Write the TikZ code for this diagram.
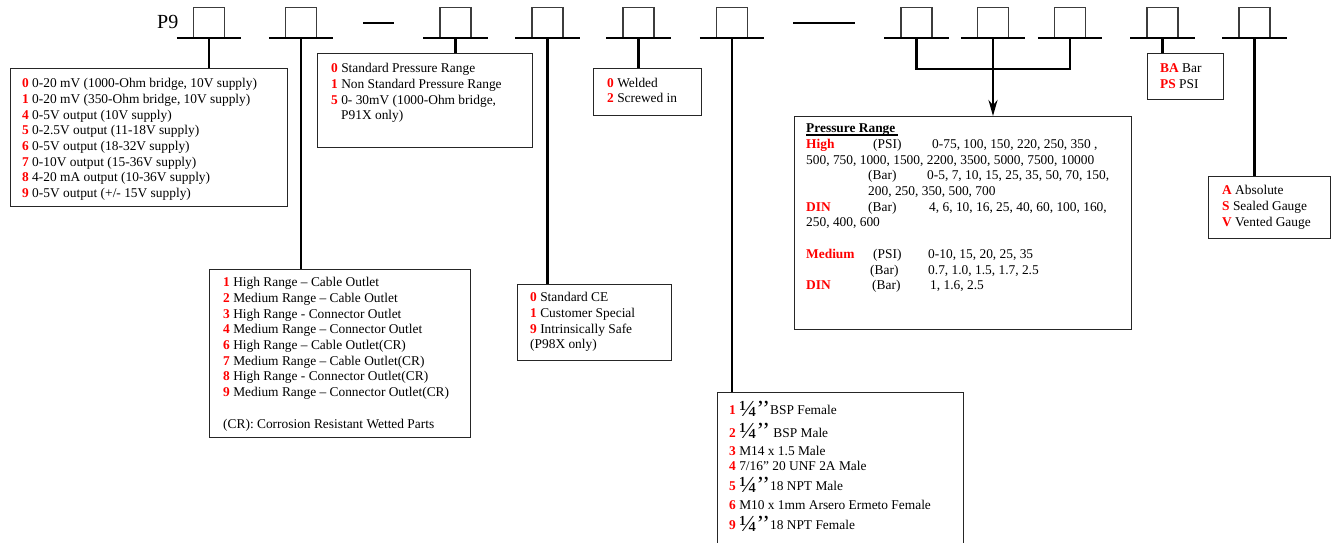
\documentclass[tikz,border=0pt]{standalone}
\usepackage{fontspec}
\setmainfont{Liberation Serif}
\usepackage{xcolor}
\usetikzlibrary{arrows.meta, positioning}
\definecolor{codered}{RGB}{255, 0, 0}
\definecolor{slotgray}{RGB}{60, 60, 60}
\newcommand{\cd}[1]{\textcolor{codered}{\textbf{#1}}}
\newcommand{\qtr}{\raisebox{-1.5pt}[9pt][0pt]{\fontsize{23}{23}\selectfont ¼’’}}

\begin{document}
\begin{tikzpicture}[
  x=1pt, y=-1pt,
  >=Stealth,
  slot/.style={
    rectangle, draw=slotgray, line width=1.1pt, inner sep=0pt,
    minimum width=31pt, minimum height=30pt, anchor=south
  },
  bar/.style={line width=2.6pt},
  wire/.style={line width=2.4pt},
  box/.style={rectangle, draw=black!85, line width=1.1pt, inner sep=0pt, anchor=north west},
  list/.style={anchor=north west, inner sep=0pt, align=left, font=\fontsize{13.4}{15.7}\selectfont},
  dashline/.style={line width=1.2pt},
]

\useasboundingbox (0,0) rectangle (1331,542);

% Code slots
\node[anchor=base west, inner sep=0pt, font=\fontsize{20}{20}\selectfont] (pnine) at (157,28) {P9};
\foreach \n/\x in {1/209, 2/301, 3/455.5, 4/547.5, 5/638.5, 6/732, 7/916.5, 8/993, 9/1070, 10/1162.5, 11/1254.5} {
  \node[slot] (s\n) at (\x,38) {};
  \draw[bar] ([xshift=-16pt]s\n.south west) -- ([xshift=16pt]s\n.south east);
}
\draw[dashline] (363,23) -- (394,23);
\draw[dashline] (793,23) -- (855,23);

% Option boxes
\node[box, minimum width=277pt, minimum height=138pt] (out)   at (10,68)    {};
\node[box, minimum width=261pt, minimum height=168pt] (cr)    at (209,269)  {};
\node[box, minimum width=215pt, minimum height=94pt]  (std)   at (317,53)   {};
\node[box, minimum width=154pt, minimum height=76pt]  (ce)    at (517,284)  {};
\node[box, minimum width=108pt, minimum height=47pt]  (weld)  at (593,68)   {};
\node[box, minimum width=246pt, minimum height=160pt] (fit)   at (717,392)  {};
\node[box, minimum width=337pt, minimum height=213pt] (prs)   at (794,116)  {};
\node[box, minimum width=76pt,  minimum height=46pt]  (unit)  at (1147,53)  {};
\node[box, minimum width=122pt, minimum height=62pt]  (gauge) at (1208,176) {};

% Stems
\draw[wire] (s1.south)  -- (s1.south  |- out.north);
\draw[wire] (s2.south)  -- (s2.south  |- cr.north);
\draw[wire] (s3.south)  -- (s3.south  |- std.north);
\draw[wire] (s4.south)  -- (s4.south  |- ce.north);
\draw[wire] (s5.south)  -- (s5.south  |- weld.north);
\draw[wire] (s6.south)  -- (s6.south  |- fit.north);
\draw[wire] (s10.south) -- (s10.south |- unit.north);
\draw[wire] (s11.south) -- (s11.south |- gauge.north);

% Pressure range bracket
\coordinate (join) at (993,69);
\draw[wire] (s7.south) |- (join) -| (s9.south);
\draw[wire] (s8.south) -- (join);
\draw[wire, -{Stealth[length=16pt, width=9pt]}] (join) -- (join |- prs.north);

% Texts
\node[list] (outtxt) at (22,76.5) {\rule{0pt}{11pt}\cd{0} 0-20 mV (1000-Ohm bridge, 10V supply)\\
  \cd{1} 0-20 mV (350-Ohm bridge, 10V supply)\\
  \cd{4} 0-5V output (10V supply)\\
  \cd{5} 0-2.5V output (11-18V supply)\\
  \cd{6} 0-5V output (18-32V supply)\\
  \cd{7} 0-10V output (15-36V supply)\\
  \cd{8} 4-20 mA output (10-36V supply)\\
  \cd{9} 0-5V output (+/- 15V supply)};

\node[list] (stdtxt) at (331,61.5) {\rule{0pt}{11pt}\cd{0} Standard Pressure Range\\
  \cd{1} Non Standard Pressure Range\\
  \cd{5} 0- 30mV (1000-Ohm bridge,\\
  \hspace*{10pt}P91X only)};

\node[list] (weldtxt) at (607,76) {\rule{0pt}{11pt}\cd{0} Welded\\
  \cd{2} Screwed in};

\node[list] (crtxt) at (223,275.5) {\rule{0pt}{11pt}\cd{1} High Range -- Cable Outlet\\
  \cd{2} Medium Range\ -- Cable Outlet\\
  \cd{3} High Range - Connector Outlet\\
  \cd{4} Medium Range\ -- Connector Outlet\\
  \cd{6} High Range -- Cable Outlet(CR)\\
  \cd{7} Medium Range\ -- Cable Outlet(CR)\\
  \cd{8} High Range - Connector Outlet(CR)\\
  \cd{9} Medium Range\ -- Connector Outlet(CR)\\[15.7pt]
  (CR): Corrosion Resistant Wetted Parts};

\node[list] (cetxt) at (530,290.5) {\rule{0pt}{11pt}\cd{0} Standard CE\\
  \cd{1} Customer Special\\
  \cd{9} Intrinsically Safe\\
  (P98X only)};

\node[list] (prstxt) at (806,121.5) {\rule{0pt}{11pt}\makebox[0pt][l]{\rule[-3pt]{92pt}{1.6pt}}\textbf{Pressure Range}\\
  \makebox[67pt][l]{\cd{High}}\makebox[59pt][l]{(PSI)}0-75, 100, 150, 220, 250, 350 ,\\
  500, 750, 1000, 1500, 2200, 3500, 5000, 7500, 10000\\
  \hspace*{62pt}\makebox[59pt][l]{(Bar)}0-5, 7, 10, 15, 25, 35, 50, 70, 150,\\
  \hspace*{62pt}200, 250, 350, 500, 700\\
  \makebox[62pt][l]{\cd{DIN}}\makebox[61pt][l]{(Bar)}4, 6, 10, 16, 25, 40, 60, 100, 160,\\
  250, 400, 600\\[15.7pt]
  \makebox[67pt][l]{\cd{Medium}}\makebox[55pt][l]{(PSI)}0-10, 15, 20, 25, 35\\
  \hspace*{64pt}\makebox[58pt][l]{(Bar)}0.7, 1.0, 1.5, 1.7, 2.5\\
  \makebox[66pt][l]{\cd{DIN}}\makebox[58pt][l]{(Bar)}1, 1.6, 2.5};

\node[list] (unittxt) at (1160,61.5) {\rule{0pt}{11pt}\cd{BA} Bar\\
  \cd{PS} PSI};

\node[list] (gaugetxt) at (1222,183.5) {\rule{0pt}{11pt}\cd{A} Absolute\\
  \cd{S} Sealed Gauge\\
  \cd{V} Vented Gauge};

\node[list] (fittxt) at (729,401.5) {\rule{0pt}{13pt}\cd{1} \qtr BSP Female\\[7pt]
  \cd{2} \qtr\ BSP Male\\[2pt]
  \cd{3} M14 x 1.5 Male\\
  \cd{4} 7/16” 20 UNF 2A Male\\[4pt]
  \cd{5} \qtr 18 NPT Male\\[3pt]
  \cd{6} M10 x 1mm Arsero Ermeto Female\\[5pt]
  \cd{9} \qtr 18 NPT Female};

\end{tikzpicture}
\end{document}
